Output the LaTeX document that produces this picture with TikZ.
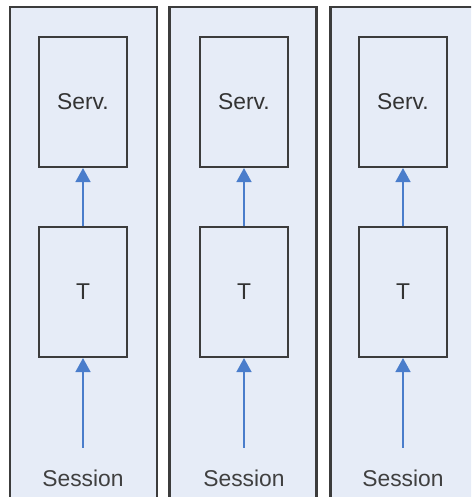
\documentclass[tikz,border=0pt]{standalone}
\usepackage{fontspec}
\setmainfont{Liberation Sans}
\usetikzlibrary{arrows.meta}
\definecolor{panelfill}{HTML}{E6ECF7}
\definecolor{edgegrey}{HTML}{3C3C3C}
\definecolor{flowblue}{HTML}{4A7DCB}
\begin{document}
\begin{tikzpicture}[x=0.02cm, y=-0.02cm]
\tikzset{panel/.style={rectangle, draw=edgegrey, line width=1.3pt, fill=panelfill, minimum width=2.94cm, minimum height=10.2cm, inner sep=0},
	box/.style={rectangle, draw=edgegrey, line width=1.2pt, minimum width=1.76cm, minimum height=2.6cm, inner sep=0, text=black!80, font=\fontsize{13}{15}\selectfont},
	label/.style={font=\fontsize{13}{15}\selectfont, text=black!75},
	flow/.style={draw=flowblue, line width=1.1pt, -{Triangle[length=8pt, width=8.5pt]}}}
\useasboundingbox (0,0) rectangle (471,497);
\clip (0,0) rectangle (471,497);
\node[panel] at (83.5, 262) (p1) {};
\node[panel] at (243, 262) (p2) {};
\node[panel] at (404, 262) (p3) {};
\node[box] at (83, 102) (serv1) {Serv.};
\node[box] at (244, 102) (serv2) {Serv.};
\node[box] at (403, 102) (serv3) {Serv.};
\node[box] at (83, 292) (t1) {T};
\node[box] at (244, 292) (t2) {T};
\node[box] at (403, 292) (t3) {T};
\node[label] at (83, 478) (s1) {Session};
\node[label] at (244, 478) (s2) {Session};
\node[label] at (403, 478) (s3) {Session};
			\draw [flow] (t1) -- (serv1);
			\draw [flow] (t2) -- (serv2);
			\draw [flow] (t3) -- (serv3);

			% Session inputs
			\draw [flow, shorten <=9pt] (s1) -- (t1);
			\draw [flow, shorten <=9pt] (s2) -- (t2);
			\draw [flow, shorten <=9pt] (s3) -- (t3);
		\end{tikzpicture}
\end{document}
